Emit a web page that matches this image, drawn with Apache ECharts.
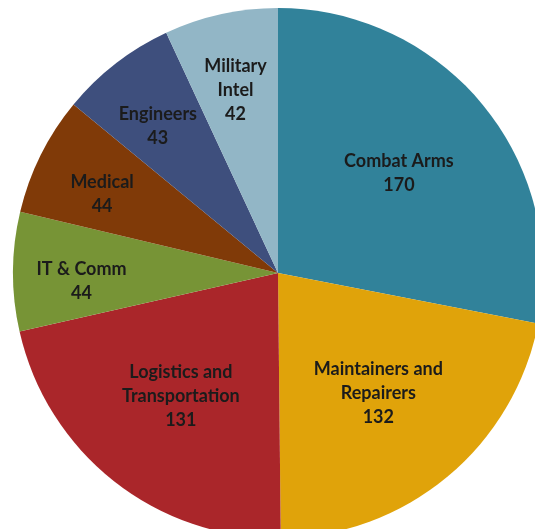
<!DOCTYPE html>
<html>
<head>
<meta charset="utf-8">
<script src="https://cdn.jsdelivr.net/npm/echarts@6/dist/echarts.min.js"></script>
<style>
  html, body { margin: 0; padding: 0; background: #ffffff; }
  #chart { width: 535px; height: 529px; }
</style>
</head>
<body>
<div id="chart"></div>
<script>
// Career field categories, clockwise from 12 o'clock
const categories = [
  'Combat Arms',
  'Maintainers and\nRepairers',
  'Logistics and\nTransportation',
  'IT & Comm',
  'Medical',
  'Engineers',
  'Military\nIntel'
];
const counts = [170, 132, 131, 44, 44, 43, 42];
const sliceColors = ['#31829A', '#E0A30A', '#AA262A', '#779436', '#803A08', '#3E4F7D', '#92B6C6'];

const total = counts.reduce((a, b) => a + b, 0);
const CENTER = [278, 273];
const R = 265;

const chart = echarts.init(document.getElementById('chart'), null, { renderer: 'canvas' });

const labelStyle = {
  position: 'inside',
  color: '#1b1b1b',
  fontFamily: 'Lato, "Open Sans", sans-serif',
  fontWeight: 'bold',
  fontSize: 18,
  lineHeight: 24,
  align: 'center',
  formatter: p => p.name + '\n' + p.value
};

// large slices carry their labels closer to the centre, thin ones further out
const isLarge = v => v / total > 0.15;

function labelRing(innerRatio, pick, extra) {
  return {
    type: 'pie',
    center: CENTER,
    radius: [R * innerRatio, R],
    startAngle: 90,
    clockwise: true,
    silent: true,
    animation: false,
    itemStyle: { color: 'rgba(0,0,0,0)' },
    labelLine: { show: false },
    data: categories.map((name, i) => ({
      name: name,
      value: counts[i],
      label: Object.assign({}, labelStyle, extra || {}, { show: pick(counts[i]) })
    }))
  };
}

chart.setOption({
  animation: false,
  series: [
    {
      type: 'pie',
      center: CENTER,
      radius: R,
      startAngle: 90,
      clockwise: true,
      animation: false,
      label: { show: false },
      labelLine: { show: false },
      itemStyle: { borderWidth: 0 },
      data: categories.map((name, i) => ({
        name: name,
        value: counts[i],
        itemStyle: { color: sliceColors[i] }
      }))
    },
    labelRing(0.16, v => isLarge(v)),
    labelRing(0.46, v => !isLarge(v), { offset: [0, 9] })
  ]
});
</script>
</body>
</html>
